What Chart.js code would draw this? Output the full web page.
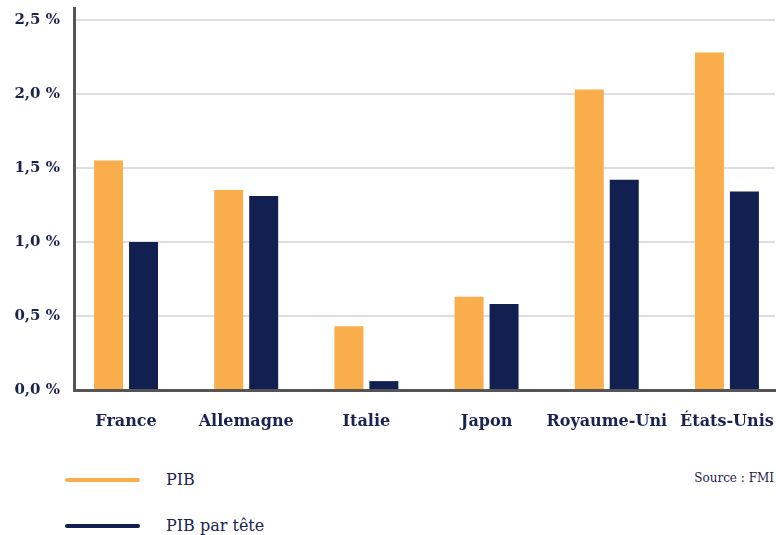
<!DOCTYPE html>
<html lang="fr">
<head>
<meta charset="utf-8">
<title>PIB et PIB par tête</title>
<script src="https://cdn.jsdelivr.net/npm/chart.js@4.4.1/dist/chart.umd.min.js"></script>
<style>
  html, body { margin: 0; padding: 0; background: #fff; overflow: hidden; }
  #wrap { position: relative; width: 776px; height: 535px; }
  #chartBox { position: absolute; left: 0; top: 0; width: 776px; height: 445px; }
  .legend-item { position: absolute; left: 65px; display: flex; align-items: center;
    font-family: "DejaVu Serif", serif; font-size: 16px; color: #1a2350; }
  .legend-item .swatch { width: 75px; height: 4px; border-radius: 2px; margin-right: 26px; }
  #source { position: absolute; right: 2px; top: 471px; font-family: "DejaVu Serif", serif;
    font-size: 12px; color: #1a2350; }
</style>
</head>
<body>
<div id="wrap">
  <div id="chartBox"><canvas id="growthChart"></canvas></div>
  <div id="legend"></div>
  <div id="source">Source : FMI</div>
</div>
<script>
// values (% growth)
const categories = ['France', 'Allemagne', 'Italie', 'Japon', 'Royaume-Uni', 'États-Unis'];
const pib = [1.55, 1.35, 0.43, 0.63, 2.03, 2.28];
const pibParTete = [1.00, 1.31, 0.06, 0.58, 1.42, 1.34];
const yTicks = [0, 0.5, 1, 1.5, 2, 2.5];

const ORANGE = '#f9ad4b';
const NAVY = '#111f51';
const TEXT = '#1a2350';

// linear x so the first group can sit closer to the y axis than a half category
const toPoints = values => values.map((v, i) => ({ x: i, y: v }));

const ctx = document.getElementById('growthChart').getContext('2d');
const chart = new Chart(ctx, {
  type: 'bar',
  data: {
    datasets: [
      { label: 'PIB', data: toPoints(pib), backgroundColor: ORANGE },
      { label: 'PIB par tête', data: toPoints(pibParTete), backgroundColor: NAVY }
    ]
  },
  options: {
    responsive: true,
    maintainAspectRatio: false,
    animation: false,
    categoryPercentage: 0.582,
    barPercentage: 0.829,
    layout: { padding: { top: 8, right: 1, left: 0, bottom: 0 } },
    plugins: { legend: { display: false }, tooltip: { enabled: false } },
    scales: {
      x: {
        type: 'linear',
        bounds: 'data',
        offset: false,
        min: -0.433,
        max: 5.40,
        grid: { display: false, drawTicks: false, offset: false },
        border: { display: true, color: '#555555', width: 3 },
        afterBuildTicks: scale => { scale.ticks = categories.map((c, i) => ({ value: i })); },
        ticks: {
          autoSkip: false,
          maxRotation: 0,
          minRotation: 0,
          padding: 22,
          color: TEXT,
          font: { family: 'DejaVu Serif', size: 16, weight: 'bold' },
          callback: value => categories[value] ?? ''
        },
        afterFit: scale => {
          scale.height = 55;
          scale.paddingLeft = 0;
          scale.paddingRight = 0;
        }
      },
      y: {
        bounds: 'data',
        min: 0,
        max: 2.58,
        grid: { color: '#dedede', lineWidth: 2, drawTicks: false },
        border: { display: true, color: '#555555', width: 3 },
        afterBuildTicks: scale => { scale.ticks = yTicks.map(v => ({ value: v })); },
        ticks: {
          padding: 14,
          color: TEXT,
          font: { family: 'DejaVu Serif', size: 15, weight: 'bold', lineHeight: 1 },
          callback: value => value.toFixed(1).replace('.', ',') + ' %'
        },
        afterFit: scale => {
          scale.width = 74;
          scale.paddingTop = 0;
          scale.paddingBottom = 0;
        }
      }
    }
  }
});

// html legend built from the datasets
const legendEl = document.getElementById('legend');
const legendTops = [470, 516];
chart.data.datasets.forEach((ds, i) => {
  const item = document.createElement('div');
  item.className = 'legend-item';
  item.style.top = legendTops[i] + 'px';
  const sw = document.createElement('span');
  sw.className = 'swatch';
  sw.style.background = ds.backgroundColor;
  const label = document.createElement('span');
  label.textContent = ds.label;
  item.appendChild(sw);
  item.appendChild(label);
  legendEl.appendChild(item);
});
</script>
</body>
</html>
